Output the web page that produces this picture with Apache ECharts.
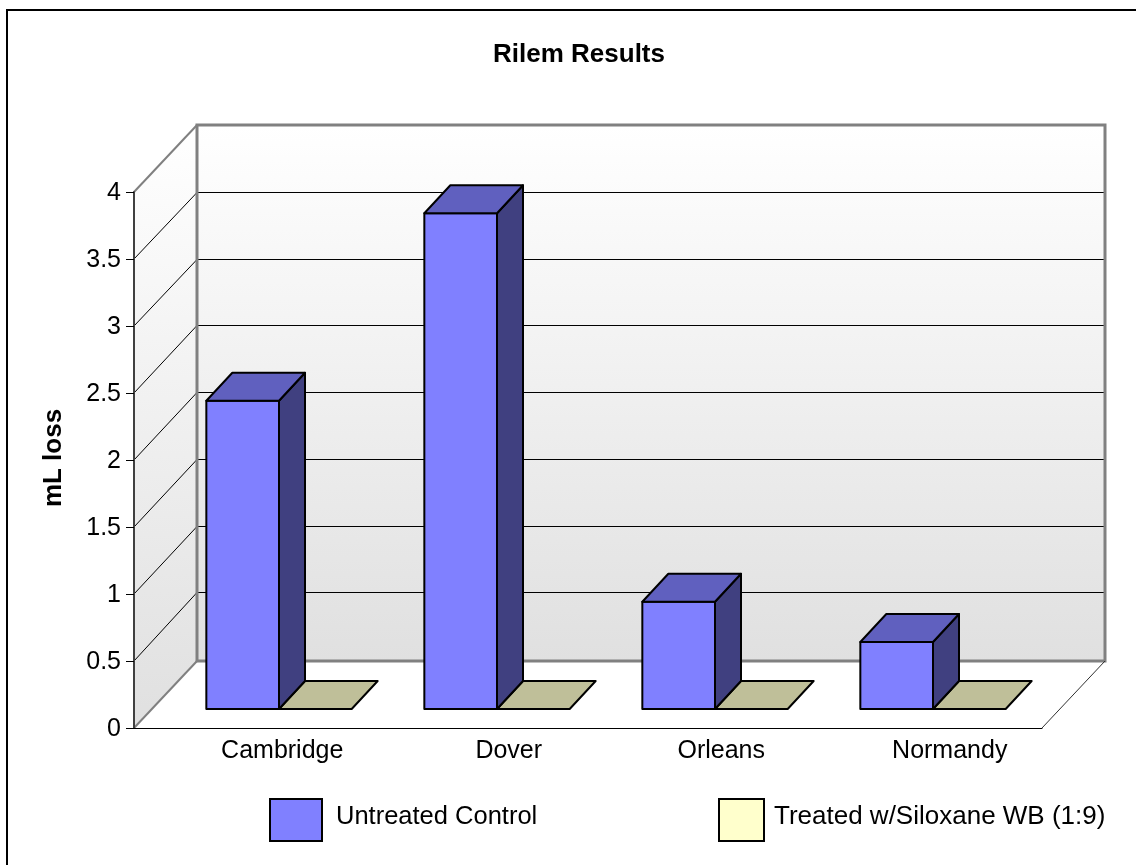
<!DOCTYPE html>
<html>
<head>
<meta charset="utf-8">
<title>Rilem Results</title>
<style>
  html, body { margin: 0; padding: 0; background: #fff; }
  #chart { width: 1136px; height: 865px; }
</style>
<script src="https://cdn.jsdelivr.net/npm/echarts@6/dist/echarts.min.js"></script>
</head>
<body>
<div id="chart"></div>
<script>
// Chart data
const categories = ['Cambridge', 'Dover', 'Orleans', 'Normandy'];
const untreatedControl = [2.3, 3.7, 0.8, 0.5];
const treatedSiloxane = [0, 0, 0, 0];
const gridValues = [0, 0.5, 1, 1.5, 2, 2.5, 3, 3.5, 4];
const valueMax = 4;
const valueStep = 0.5;

// Oblique projection used for the pseudo-3D look
const WALL_DX = 63, WALL_DY = 67;     // front plane to back wall
const WALL_SCALE = 0.9963;            // back wall is very slightly shorter than the front plane
const ROW_DY = 19;                    // front plane to the face of the bars
const BAR_DX = 26, BAR_DY = 28;       // depth of a single bar

const FONT = '"Liberation Sans", Arial, sans-serif';
const GRID_TOP = 192, GRID_HEIGHT = 536;
const crisp = v => Math.round(v) + 0.5;

function renderWalls(params, api) {
  const cs = params.coordSys;
  const x0 = cs.x, x1 = cs.x + cs.width;
  const y0 = api.coord([0, 0])[1];
  const yMax = api.coord([0, valueMax])[1];
  const bx0 = x0 + WALL_DX, bx1 = x1 + WALL_DX;
  const children = [];
  const shade = {
    type: 'linear', x: 0, y: 0, x2: 0, y2: 1,
    colorStops: [
      { offset: 0, color: '#ffffff' },
      { offset: 1, color: '#e0e0e0' }
    ]
  };
  // floor
  children.push({
    type: 'polygon',
    shape: { points: [[x0, y0], [x1, y0], [bx1, y0 - WALL_DY], [bx0, y0 - WALL_DY]] },
    style: { fill: '#ffffff', stroke: null }
  });
  // side wall
  children.push({
    type: 'polygon',
    shape: { points: [[x0, yMax], [bx0, yMax - WALL_DY], [bx0, y0 - WALL_DY], [x0, y0]] },
    style: { fill: shade, stroke: null }
  });
  // back wall
  children.push({
    type: 'polygon',
    shape: { points: [[bx0, yMax - WALL_DY], [bx1, yMax - WALL_DY], [bx1, y0 - WALL_DY], [bx0, y0 - WALL_DY]] },
    style: { fill: shade, stroke: null }
  });
  // grid lines running along the side wall and the back wall
  gridValues.forEach(v => {
    if (v === 0 || v === valueMax) return;
    const y = api.coord([0, v])[1];
    const by = crisp(yMax - WALL_DY + (y - yMax) * WALL_SCALE);
    children.push({
      type: 'polyline',
      shape: { points: [[x0, y], [bx0, by], [bx1, by]] },
      style: { fill: null, stroke: '#000000', lineWidth: 1 }
    });
  });
  // grey outlines of the walls
  const edge = { fill: null, stroke: '#808080', lineWidth: 3 };
  children.push({
    type: 'polygon',
    shape: { points: [[bx0, yMax - WALL_DY], [bx1, yMax - WALL_DY], [bx1, y0 - WALL_DY], [bx0, y0 - WALL_DY]] },
    style: edge
  });
  children.push({
    type: 'polyline',
    shape: { points: [[x0, yMax], [bx0, yMax - WALL_DY]] },
    style: { fill: null, stroke: '#808080', lineWidth: 2 }
  });
  children.push({
    type: 'polyline',
    shape: { points: [[x0, y0], [bx0, y0 - WALL_DY]] },
    style: { fill: null, stroke: '#808080', lineWidth: 2 }
  });
  // right edge of the floor
  children.push({
    type: 'polyline',
    shape: { points: [[x1, y0], [bx1, y0 - WALL_DY]] },
    style: { fill: null, stroke: '#303030', lineWidth: 1 }
  });
  return { type: 'group', children };
}

// Each bar occupies one third of its category band, either side of the band centre
function makeBarRenderer(slot, front, top, side) {
  return function (params, api) {
    const p = api.coord([api.value(0), api.value(1)]);
    const base = api.coord([api.value(0), 0]);
    const w = api.size([1, 0])[0] / 3;
    const xl = p[0] + slot * w, xr = xl + w;
    const yb = base[1] - ROW_DY, yt = p[1] - ROW_DY;
    const line = { stroke: '#000000', lineWidth: 2, lineJoin: 'round' };
    const faces = [];
    if (yb - yt > 0.5) {
      faces.push({
        type: 'polygon',
        shape: { points: [[xl, yt], [xr, yt], [xr, yb], [xl, yb]] },
        style: Object.assign({ fill: front }, line)
      });
      faces.push({
        type: 'polygon',
        shape: { points: [[xr, yt], [xr + BAR_DX, yt - BAR_DY], [xr + BAR_DX, yb - BAR_DY], [xr, yb]] },
        style: Object.assign({ fill: side }, line)
      });
    }
    faces.push({
      type: 'polygon',
      shape: { points: [[xl, yt], [xl + BAR_DX, yt - BAR_DY], [xr + BAR_DX, yt - BAR_DY], [xr, yt]] },
      style: Object.assign({ fill: top }, line)
    });
    return { type: 'group', children: faces };
  };
}

const labelFont = { fontFamily: FONT, fontSize: 25, color: '#000' };

const chart = echarts.init(document.getElementById('chart'));
chart.setOption({
  animation: false,
  backgroundColor: '#ffffff',
  textStyle: { fontFamily: FONT },
  title: {
    text: 'Rilem Results',
    left: 574, top: 37, textAlign: 'center',
    textStyle: { fontFamily: FONT, fontSize: 26, fontWeight: 'bold', color: '#000' }
  },
  graphic: [{
    type: 'rect', silent: true, z: 100,
    shape: { x: 7, y: 10, width: 1300, height: 1000 },
    style: { fill: null, stroke: '#000000', lineWidth: 2 }
  }],
  legend: [
    {
      data: ['Untreated Control'], left: 269, top: 798, padding: 0,
      itemWidth: 52, itemHeight: 42, icon: 'rect',
      itemStyle: { borderColor: '#000', borderWidth: 2 },
      formatter: '{t|{name}}',
      textStyle: {
        rich: { t: { fontFamily: FONT, fontSize: 25.5, color: '#000', padding: [0, 0, 6, 9] } }
      }
    },
    {
      data: ['Treated w/Siloxane WB (1:9)'], left: 718, top: 798, padding: 0,
      itemWidth: 45, itemHeight: 42, icon: 'rect',
      itemStyle: { borderColor: '#000', borderWidth: 2 },
      formatter: '{t|{name}}',
      textStyle: {
        rich: { t: { fontFamily: FONT, fontSize: 26, color: '#000', padding: [0, 0, 6, 5] } }
      }
    }
  ],
  grid: [
    { left: 134, top: GRID_TOP, width: 908, height: GRID_HEIGHT },   // value axis, walls, floor
    { left: 170, top: GRID_TOP, width: 872, height: GRID_HEIGHT },   // bars
    { left: 171, top: GRID_TOP, width: 890, height: GRID_HEIGHT }    // category labels
  ],
  xAxis: [
    {
      gridIndex: 0, type: 'category', data: categories, z: 6,
      axisLine: { show: true, lineStyle: { color: '#000', width: 1 } },
      axisTick: { show: false }, axisLabel: { show: false }
    },
    { gridIndex: 1, type: 'category', data: categories, show: false },
    {
      gridIndex: 2, type: 'category', data: categories,
      axisLine: { show: false }, axisTick: { show: false },
      axisLabel: {
        margin: 11,
        // side padding nudges the two middle labels off their band centres
        formatter: name => name === 'Dover' ? '{d|' + name + '}'
          : name === 'Orleans' ? '{o|' + name + '}'
          : '{n|' + name + '}',
        rich: {
          n: Object.assign({}, labelFont),
          d: Object.assign({ padding: [0, 0, 0, 8] }, labelFont),
          o: Object.assign({ padding: [0, 12, 0, 0] }, labelFont)
        }
      }
    }
  ],
  yAxis: [
    {
      gridIndex: 0, type: 'value', min: 0, max: valueMax, interval: valueStep, z: 6,
      name: 'mL loss', nameLocation: 'middle', nameGap: 67, nameRotate: 90,
      nameTextStyle: { fontFamily: FONT, fontSize: 26, fontWeight: 'bold', color: '#000', padding: [0, 0, 0, 4] },
      axisLine: { show: true, lineStyle: { color: '#404040', width: 2 } },
      axisTick: { show: true, length: 8, lineStyle: { color: '#000', width: 1 } },
      axisLabel: {
        margin: 13,
        formatter: '{t|{value}}',
        rich: { t: Object.assign({ padding: [3, 0, 0, 0] }, labelFont) }
      },
      splitLine: { show: false }
    },
    { gridIndex: 1, type: 'value', min: 0, max: valueMax, interval: valueStep, show: false },
    { gridIndex: 2, type: 'value', min: 0, max: valueMax, interval: valueStep, show: false }
  ],
  series: [
    {
      name: 'walls', type: 'custom', xAxisIndex: 0, yAxisIndex: 0, z: 1, silent: true,
      renderItem: renderWalls, data: [[0, 0]], encode: { x: 0, y: 1 }
    },
    {
      name: 'Treated w/Siloxane WB (1:9)', type: 'custom', xAxisIndex: 1, yAxisIndex: 1, z: 3,
      itemStyle: { color: '#ffffcc' },
      renderItem: makeBarRenderer(0, '#ffffcc', '#bfbf99', '#808066'),
      data: treatedSiloxane.map((v, i) => [i, v]), encode: { x: 0, y: 1 }
    },
    {
      name: 'Untreated Control', type: 'custom', xAxisIndex: 1, yAxisIndex: 1, z: 4,
      itemStyle: { color: '#8080ff' },
      renderItem: makeBarRenderer(-1, '#8080ff', '#6060bf', '#404080'),
      data: untreatedControl.map((v, i) => [i, v]), encode: { x: 0, y: 1 }
    }
  ]
});
</script>
</body>
</html>
